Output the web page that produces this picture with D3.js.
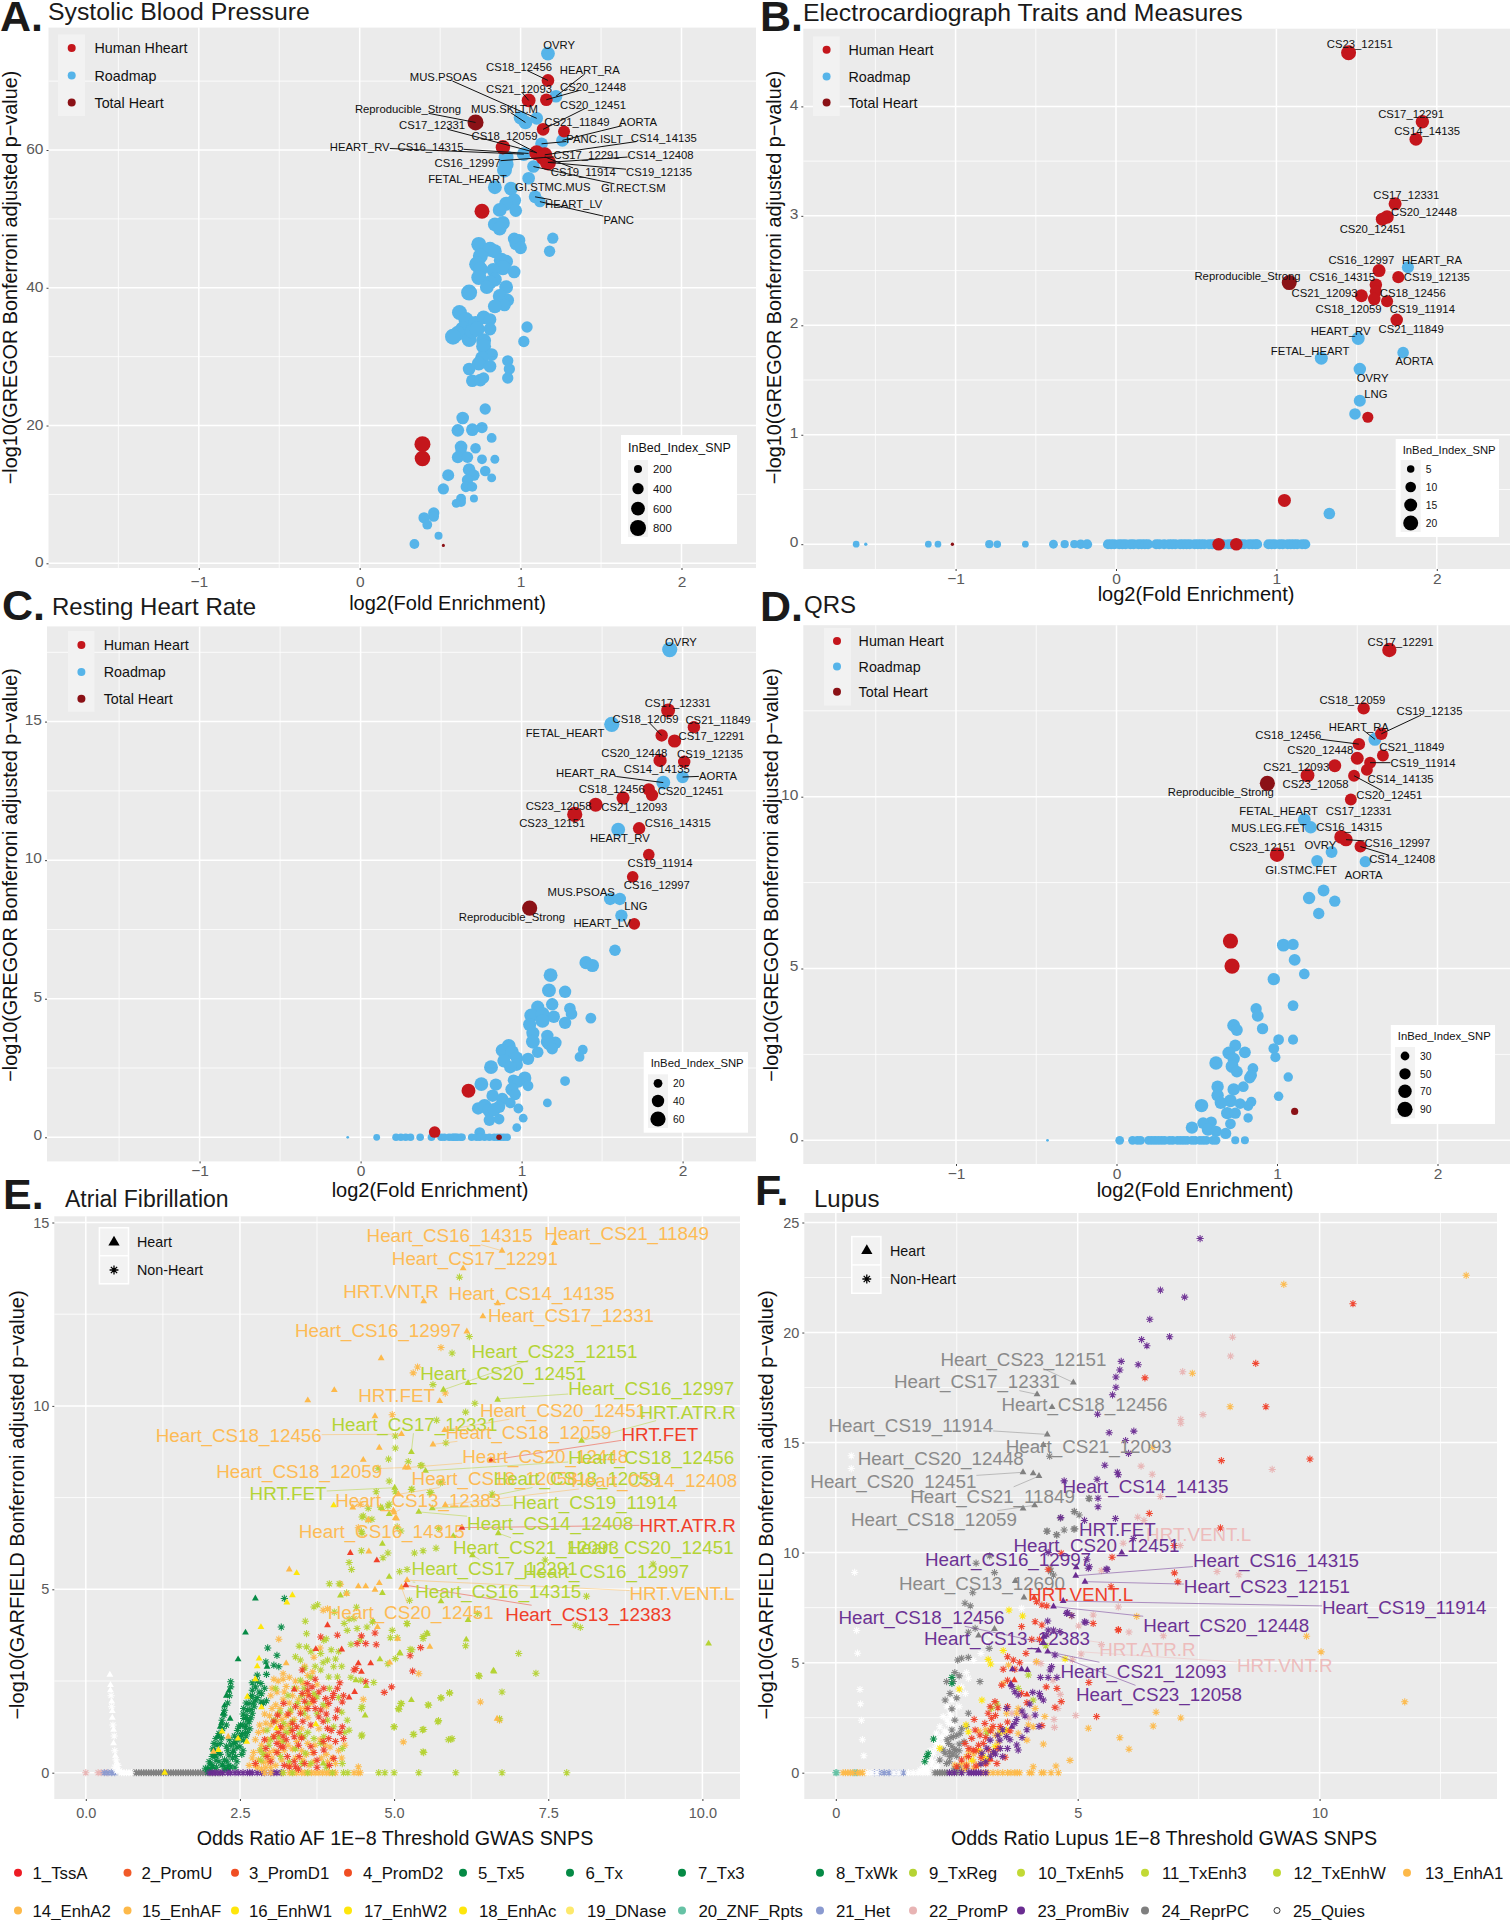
<!DOCTYPE html>
<html><head><meta charset="utf-8">
<script src="https://cdn.jsdelivr.net/npm/d3@7"></script>
<style>html,body{margin:0;background:#fff}svg{display:block}text{font-family:"Liberation Sans",Arial,sans-serif}</style>
</head><body><svg id="c" width="1510" height="1920"></svg>
<script>
// ---------- Panel A: Systolic Blood Pressure ---------- [log2FE, -log10p, InBed_Index_SNP]
const A_roadmap=[[1.17,74,600],[1.22,67.8,500],[1,64.7,600],[1.03,64,600],[1.1,64.6,500],[1.13,60.9,500],[1.26,61.4,500],[1.02,59.4,600],[.91,58.9,700],[.91,57.9,700],[.9,57.1,700],[1.08,57.6,500],[1.05,55.9,500],[.84,54.6,600],[.94,54.4,600],[1.09,53.2,500],[1.12,52.5,400],[.96,52.7,600],[.91,52.2,600],[.87,51.3,600],[.97,51.2,500],[.84,49.2,600],[.89,49.4,600],[.87,48.6,600],[1.2,47.2,400],[.96,47.1,500],[.99,46.9,500],[.97,46.4,500],[1,45.8,500],[1.18,45.3,400],[.74,46.3,700],[.81,45.6,700],[.84,45.3,600],[.75,44.6,700],[.88,44,700],[.91,43.8,600],[.73,43.4,800],[.89,42.9,700],[.83,42.6,600],[.96,42.3,500],[.75,42.7,700],[.74,41.5,700],[.84,41.2,600],[.81,40.8,600],[.79,40.1,600],[.91,40.1,600],[.68,39.3,800],[.87,38.8,600],[.92,38.2,500],[.89,37.9,500],[.9,37.5,500],[.84,37.3,600],[.62,36.4,700],[.66,35.4,700],[.72,34.8,700],[.77,35.7,600],[.81,35.4,500],[.81,34,500],[.64,34,700],[.61,33.4,700],[.58,32.9,800],[.68,32.5,700],[.7,33.7,700],[.73,34,700],[.77,32.3,700],[.77,31.5,700],[1.04,34.3,400],[1.02,32.2,400],[.82,30.3,500],[.76,29.8,600],[.74,29,600],[.81,28.6,500],[.68,28.2,500],[.92,29.4,400],[.93,28.2,400],[.92,26.9,400],[.7,26.5,500],[.75,26.6,500],[.77,26.9,400],[.78,22.4,400],[.64,21.1,500],[.76,19.7,400],[.7,19.4,500],[.61,19.3,500],[.82,18.2,300],[.63,16.9,500],[.72,16.7,350],[.63,16.3,400],[.61,15.4,450],[.67,15.4,400],[.76,15.1,300],[.84,15.1,250],[.68,13.6,500],[.78,13.4,350],[.71,12.8,400],[.55,12.8,450],[.67,12.1,400],[.82,12.4,250],[.66,11.1,350],[.7,11.1,300],[.52,10.8,400],[.71,9.4,200],[.63,9.4,300],[.63,8.9,300],[.6,8.7,250],[.46,7.3,400],[.46,6.8,350],[.4,6.6,400],[.42,5.6,300],[.49,4,200],[.34,2.8,300]];
const A_human=[[1.17,70.1,500],[1.05,67.2,600],[1.16,67.3,500],[1.14,63,500],[1.27,62.7,450],[.89,60.4,650],[1.1,59.6,700],[1.15,59.3,700],[1.14,58.9,700],[1.17,58.2,800],[.76,51.1,700],[.39,17.3,800],[.39,15.2,750]];
const A_total=[[.72,64,800],[.52,2.6,30]];
const A_labels=[["OVRY",1.24,75.3],["CS18_12456",.99,72.1,1.17,70.1],["HEART_RA",1.43,71.6,1.22,67.8],["MUS.PSOAS",.52,70.6,1.1,64.6],["CS20_12448",1.45,69.2,1.16,67.3],["CS21_12093",.99,68.9,1.05,67.2],["CS20_12451",1.45,66.6,1.14,63],["Reproducible_Strong",.3,65.9,.72,64],["MUS.SKLT.M",.9,66,1.03,64],["CS21_11849",1.35,64.1],["AORTA",1.73,64.1,1.26,61.4],["CS17_12331",.45,63.6,1.1,59.6],["CS18_12059",.9,62,1.1,59.6],["PANC.ISLT",1.46,61.6,1.13,60.9],["CS14_14135",1.89,61.8,1.15,59.3],["HEART_RV",0,60.4,1.02,59.4],["CS16_14315",.44,60.4,1.05,59.5],["CS17_12291",1.41,59.3,1.14,58.9],["CS14_12408",1.87,59.3,1.17,58.2],["CS16_12997",.67,58.1,1.14,58.9],["CS19_11914",1.39,56.8,1.15,59],["CS19_12135",1.86,56.8,1.17,58.2],["FETAL_HEART",.67,55.8],["GI.STMC.MUS",1.2,54.7],["GI.RECT.SM",1.7,54.5,1.08,57.6],["HEART_LV",1.33,52.2,1.09,53.2],["PANC",1.61,49.9,1.12,52.5]];
const A_sizes=[200,400,600,800];
// ---------- Panel B: ECG ----------
const B_human=[[1.45,4.49,20],[1.91,3.86,16],[1.87,3.7,15],[1.74,3.11,15],[1.69,2.99,16],[1.66,2.97,15],[1.64,2.5,15],[1.76,2.44,13],[1.62,2.37,14],[1.62,2.31,13],[1.53,2.27,15],[1.61,2.24,14],[1.69,2.22,13],[1.75,2.05,14],[1.57,1.16,11],[1.05,.4,15],[.64,0,14],[.75,0,14]];
const B_total=[[1.08,2.39,20],[-1.02,0,1]];
const B_roadmap=[[1.82,2.53,13],[1.51,1.88,15],[1.28,1.7,15],[1.79,1.75,12],[1.52,1.6,14],[1.52,1.31,13],[1.49,1.19,12],[1.33,.28,12],[-1.62,0,4],[-1.56,0,1],[-1.17,0,4],[-1.11,0,4],[-.79,0,6],[-.74,0,5],[-.565,0,4],[-.39,0,7],[-.32,0,6],[-.26,0,6],[-.22,0,8],[-.18,0,9]].concat([-.05,-.03,-.01,.02,.04,.06,.09,.11,.14,.16,.18,.2,.25,.27,.3,.33,.35,.37,.4,.42,.44,.46,.49,.51,.53,.55,.58,.6,.62,.67,.7,.72,.74,.76,.78,.8,.83,.85,.87,.88,.95,.97,.99,1.02,1.04,1.07,1.09,1.11,1.13,1.16,1.18].map(x=>[x,0,9]));
const B_labels=[["CS23_12151",1.52,4.57],["CS17_12291",1.84,3.93],["CS14_14135",1.94,3.78],["CS17_12331",1.81,3.19],["CS20_12448",1.92,3.04],["CS20_12451",1.6,2.88],["CS16_12997",1.53,2.6],["HEART_RA",1.97,2.6],["Reproducible_Strong",.82,2.45],["CS16_14315",1.41,2.44],["CS19_12135",2,2.44],["CS21_12093",1.3,2.3],["CS18_12456",1.85,2.3],["CS18_12059",1.45,2.15],["CS19_11914",1.91,2.15],["HEART_RV",1.4,1.95],["CS21_11849",1.84,1.97],["FETAL_HEART",1.21,1.77],["AORTA",1.86,1.67],["OVRY",1.6,1.52],["LNG",1.62,1.37]];
const B_sizes=[5,10,15,20];
// ---------- Panel C: Resting Heart Rate ----------
const C_roadmap=[[1.92,17.6,60],[1.56,14.9,60],[1.88,12.8,50],[2,13,40],[1.6,11.1,50],[1.55,8.6,40],[1.61,8.6,40],[1.62,8,40],[1.58,6.75,35],[1.4,6.3,45],[1.44,6.2,45],[1.18,5.85,50],[1.17,5.3,50],[1.27,5.25,40],[1.19,4.8,40],[1.1,4.7,45],[1.3,4.65,35],[1.31,4.45,35],[1.06,4.4,50],[1.13,4.45,50],[1.2,4.35,40],[1.43,4.3,30],[1.13,4.2,50],[1.05,4.07,45],[1.27,4.13,40],[1.07,3.76,45],[1.07,3.45,50],[1.16,3.66,40],[1.16,3.45,45],[1.21,3.41,40],[1.17,3.36,40],[1.19,3.2,35],[1.1,3.07,35],[.92,3.3,50],[.88,3.14,45],[.94,3.07,50],[1.38,3.16,25],[1.36,2.9,25],[1.04,2.83,40],[.97,2.87,40],[.89,2.76,45],[.97,2.62,40],[.93,2.53,40],[.81,2.53,50],[.95,2.06,35],[1.02,2.14,45],[.98,2,35],[1.04,1.86,30],[1.27,2.03,25],[.75,1.92,50],[.84,1.9,40],[.94,1.73,45],[.96,1.55,35],[.82,1.5,40],[.88,1.38,40],[.86,1.1,40],[.93,1.24,30],[1.16,1.24,20],[.73,1.04,40],[.77,1.13,50],[.8,.97,50],[.83,1,45],[.98,1.04,25],[1.01,.69,20],[.8,.62,35],[.86,.66,30],[.97,.35,20],[.74,.17,30],[-.08,0,2],[.1,0,12]].concat([.22,.25,.28,.31,.37,.44,.5,.52,.55,.57,.58,.59,.6,.62,.63,.69,.72,.74,.77,.8,.83,.85,.87,.89,.91].map(x=>[x,0,15]));
const C_human=[[1.91,15.4,50],[2.07,14.8,40],[1.87,14.5,40],[1.95,14.3,45],[1.86,13.6,45],[2.01,13.55,40],[1.79,12.55,40],[1.81,12.35,40],[1.63,12.25,45],[1.46,12,50],[1.33,11.65,60],[1.73,11.15,40],[1.79,10.2,35],[1.69,9.4,35],[1.7,7.7,35],[.67,1.68,50],[.46,.19,35]];
const C_total=[[1.05,8.27,60],[.86,0,8]];
const C_labels=[["OVRY",1.99,17.86],["CS17_12331",1.97,15.68],["CS18_12059",1.77,15.1,1.87,14.5],["CS21_11849",2.22,15.07],["FETAL_HEART",1.27,14.6],["CS17_12291",2.18,14.49],["CS20_12448",1.7,13.88],["CS19_12135",2.17,13.85],["HEART_RA",1.4,13.16,1.88,12.8],["CS14_14135",1.84,13.29],["AORTA",2.22,13.05,2,13],["CS18_12456",1.56,12.57],["CS20_12451",2.05,12.49],["CS23_12058",1.23,11.97],["CS21_12093",1.7,11.92],["CS23_12151",1.19,11.35],["CS16_14315",1.97,11.35],["HEART_RV",1.61,10.8],["CS19_11914",1.86,9.89],["CS16_12997",1.84,9.1],["MUS.PSOAS",1.37,8.87],["LNG",1.71,8.34],["Reproducible_Strong",.94,7.96],["HEART_LV",1.5,7.72]];
const C_sizes=[20,40,60];
// ---------- Panel D: QRS ----------
const D_human=[[1.7,14.27,80],[1.54,12.57,60],[1.65,11.83,60],[1.51,11.53,60],[1.5,11.12,65],[1.66,11.2,55],[1.58,10.99,55],[1.56,10.78,55],[1.36,10.9,65],[1.48,10.61,55],[1.19,10.62,75],[1.46,9.92,55],[1.4,8.83,75],[1.43,8.75,70],[1.52,8.55,55],[1,8.31,80],[.71,5.8,90],[.72,5.07,90]];
const D_total=[[.94,10.39,90],[1.11,.84,20]];
const D_roadmap=[[1.61,11.67,65],[1.17,9.33,65],[1.21,9.11,60],[1.34,8.39,55],[1.25,8.13,55],[1.55,8.11,50],[1.29,7.27,55],[1.2,7.05,60],[1.36,6.96,50],[1.26,6.6,50],[1.04,5.68,65],[1.1,5.7,50],[1.11,5.25,55],[1.17,4.84,45],[.98,4.69,60],[1.1,3.92,45],[.87,3.83,50],[.88,3.62,55],[.91,3.25,50],[.73,3.34,65],[.75,3.21,55],[1.01,2.93,45],[1.1,2.93,40],[.74,2.76,55],[.98,2.67,45],[.8,2.56,55],[.7,2.54,65],[.73,2.37,60],[.99,2.42,40],[.62,2.25,70],[.72,2.15,65],[.75,2,55],[.85,2.09,45],[.84,1.89,50],[.83,1.82,50],[1.07,1.84,35],[.79,1.56,45],[.63,1.56,60],[.73,1.48,60],[.63,1.31,60],[.71,1.15,65],[.65,1.09,60],[1.01,1.28,35],[.84,1.12,40],[.77,1.07,45],[.82,1,40],[.53,1.01,70],[.69,.79,60],[.74,.79,50],[.82,.65,35],[.59,.53,50],[.54,.5,55],[.47,.37,60],[.71,.48,45],[.57,.31,60],[.62,.26,50],[.68,.2,50],[-.43,0,3],[.02,0,30],[.74,0,25],[.8,0,25]].concat([.1,.13,.15,.2,.22,.24,.26,.28,.3,.33,.35,.38,.4,.42,.44,.47,.49,.52,.54,.56,.6,.62].map(x=>[x,0,30]));
const D_labels=[["CS17_12291",1.77,14.51],["CS18_12059",1.47,12.81],["CS19_12135",1.95,12.49,1.65,11.83],["HEART_RA",1.51,12.04,1.61,11.67],["CS18_12456",1.07,11.79,1.51,11.53],["CS21_11849",1.84,11.46],["CS20_12448",1.27,11.35],["CS19_11914",1.91,10.99,1.58,10.99],["CS21_12093",1.12,10.86],["CS14_14135",1.77,10.52],["CS23_12058",1.24,10.37],["CS20_12451",1.7,10.06,1.48,10.61],["Reproducible_Strong",.65,10.14],["FETAL_HEART",1.01,9.58],["CS17_12331",1.51,9.59],["MUS.LEG.FET",.95,9.09],["CS16_14315",1.45,9.12],["OVRY",1.27,8.61],["CS16_12997",1.75,8.65,1.43,8.75],["CS23_12151",.91,8.53],["CS14_12408",1.78,8.18,1.52,8.55],["GI.STMC.FET",1.15,7.88],["AORTA",1.54,7.73]];
const D_sizes=[30,50,70,90];
// ---------- Panel E: Atrial Fibrillation ---------- [odds ratio, -log10p]
const E_green_star=[[3.22,4.75],[3.17,3.97],[2.95,3.4],[3.1,3.2],[2.92,3.02],[3.05,2.93],[3.13,2.89],[2.93,2.68],[2.78,2.66],[2.35,2.48],[2.35,2.34],[2.84,2.43],[2.75,2.34],[2.81,2.2],[2.7,2.25],[2.93,1.96],[2.67,2.07],[2.75,1.98],[2.84,1.93],[2.65,1.89],[2.73,1.8],[2.62,1.71],[2.7,1.62],[2.56,1.48],[2.65,1.39],[2.51,1.3],[2.59,1.21],[2.54,1.07],[2.48,.98],[2.56,.89],[2.43,.84],[2.5,.71],[2.35,.75],[2.4,.62],[2.32,.48],[2.43,.44],[2.29,.3],[2.21,.21],[2.35,.16],[2.27,.12],[2.21,1.43],[2.24,1.57],[2.16,1.07],[2.11,.93],[2.08,.8],[2.13,.75],[2.05,.44],[2,.3],[1.94,.12],[2,.12],[2.11,.34],[2.6,1.55],[2.68,1.72],[2.46,1.15],[2.52,1.02],[2.38,.55],[2.45,.3],[2.56,1.75],[2.6,1.3],[2.28,.72],[2.18,.5],[2.41,1],[2.33,.9],[2.55,1.6],[2.62,1.45],[2.68,1.5],[2.72,1.9],[2.78,2.05],[2.7,2.1],[2.6,1.9],[2.55,1.3],[2.48,1.25],[2.45,.7],[2.5,.9],[2.4,.8],[2.38,.4],[2.3,.6],[2.25,.35],[2.42,.15],[2.32,.2],[2.25,.1],[2.62,1.1],[2.55,.6],[2.88,1.9],[2.85,2.15],[2.9,2.3],[2.7,2.45],[2.78,2.5],[2.66,1.2],[2.6,1],[2.53,.5],[2.05,.2],[2.02,.05],[2.08,.5],[2.14,.55],[2.2,.95],[2.18,.8],[2.22,1.2],[2.12,.15],[2.16,.3],[1.98,.02],[2.06,.65],[2.25,1.7],[2.28,1.3],[2.3,1.9],[2.33,2.1]];
const E_green_tri=[[2.75,4.75],[2.59,3.82],[2.47,3.09],[2.94,2.89],[2.25,1.83],[2.32,2.23],[2.34,1.47],[2.23,1.62],[2.18,1.25],[2.08,.62],[2.02,.25],[2.1,.45],[2.14,1],[2.2,1.35],[2.28,2.1],[1.98,.1],[2.06,.15],[2.22,.2],[2.3,.1]];
const E_red_star=[[3.59,2.43],[3.67,2.34],[3.51,2.16],[3.86,2.3],[4.08,2.3],[3.89,2.02],[4.02,2.16],[4.16,1.93],[3.94,1.89],[3.81,1.71],[4.08,1.71],[3.92,1.21],[4.16,1.25],[4.18,.93],[3.94,.93],[3.78,1.52],[3.65,1.3],[3.48,1.62],[3.4,1.8],[3.21,1.89],[3.11,1.57],[3.16,1.25],[3.05,.98],[2.92,.66],[2.94,.44],[2.75,.25],[3.27,.44],[3.4,.16],[3.46,.44],[3.3,.16],[3.16,.71],[3.38,.98],[3.65,.71],[3.75,.34],[4.02,.39],[3.86,.62],[3.51,2.8],[3.81,3.7],[4.08,3.75],[4.47,3.73],[4.4,3.52],[4.54,3.52],[4.71,3.49],[4.69,3.81],[4.38,2.84],[4.35,2.8],[4.54,2.48],[4.84,2.19],[4.96,2.34],[5.3,2.77],[5.26,3.19],[5.43,3.41],[3.62,2.1],[3.7,1.95],[3.2,1],[3.05,1.4],[2.9,.9],[3.1,.55],[3.35,1.35],[3.45,.75],[3.55,.25],[3.95,.2],[3,.3],[3.2,.7],[3.25,.9],[3.12,1.1],[3.28,1.6],[3.35,1.15],[3.42,1.25],[3.5,.95],[3.55,1.95],[3.6,2.25],[3.68,2],[3.72,1.75],[3.85,1.4],[3.9,1.6],[3.98,1.15],[4.05,1.5],[4.12,1.1],[4,2.05],[4.12,2.45],[4.18,2.1],[3.78,2.2],[3.72,2.55],[3.6,1.75],[3.38,.3],[3.22,.2],[3.45,.1],[3.75,.15],[3.1,.8],[3.7,.55],[3.85,.85],[4.05,.85],[3.52,1.4]];
const E_red_tri=[[3.92,4.02],[3.73,3.37],[4.15,3.36],[4.62,2.98],[4.42,2.98],[4.47,2.75],[4.36,2.2],[4.27,2.05],[3.38,2.27],[4.72,5.79],[4.29,5.99],[5.19,5.11],[6.1,6.68],[6.57,8.52]];
const E_yg_star=[[7.02,3.25],[7.3,2.71],[6.37,2.65],[6.75,2.2],[5.9,2.17],[5.76,2.04],[5.55,1.85],[5.12,1.88],[5.07,1.75],[4.47,1.75],[5,1.25],[6.71,1.47],[5.71,1.39],[5.31,1.04],[5.46,1.17],[5.88,.9],[5.94,.93],[5.47,.57],[4.47,1],[9.2,5.69],[8.12,4.81],[7.94,4.02],[8.02,3.96],[7.45,5.8],[6.35,4.34],[6.16,3.46],[5.53,3.8],[5.47,3.71],[5.05,3.68],[4.9,2.97],[5.29,3.35],[6.06,13.51],[6.22,11.89],[5.94,11.44],[5.63,10.58],[6.31,10.07],[6.16,9.83],[5.69,9.61],[5.02,9.18],[5.02,8.85],[4.91,8.55],[5.23,8.48],[5.45,8.38],[5.84,8.99],[4.92,7.95],[5.29,7.73],[5.58,7.64],[4.71,7.66],[5.75,7.9],[4.48,6.97],[4.64,6.91],[4.92,7.32],[4.58,7.21],[4.48,6.53],[5.11,6.59],[5.72,6.66],[5.02,7.66],[4.74,8.3],[5.43,8.37],[5.28,7.72],[5.6,7.63],[5.78,7.92],[6.59,7.6],[5.05,6.7],[4.5,7],[4.9,7.27],[4.78,7.24],[4.47,6.57],[4.58,6.89],[5.68,6.12],[5.47,6.05],[5.33,5.99],[5.09,5.48],[4.82,5.86],[4.9,5.99],[4.47,6.05],[4.27,5.73],[4.31,5.54],[3.95,5.15],[4.11,5.15],[4.23,4.9],[5.21,5.54],[5.25,4.7],[4.39,4.51],[4.03,4.38],[3.56,4.13],[3.76,4.58],[4.27,4.19],[5.21,4.06],[3.7,4.52],[3.58,3.79],[3.46,3.45],[3.58,3.43],[3.4,3.16],[3.48,3.07],[3.86,3.61],[4.19,4.07],[4.35,4.2],[4.4,3.93],[4.24,3.88],[4.56,3.97],[4.65,4.11],[4.94,3.68],[4.97,3.88],[5.21,4.07],[5.26,3.36],[5.47,3.66],[5.02,3.11],[3.81,3.25],[3.92,3.07],[4.02,2.89],[4.08,2.61],[3.81,2.8],[3.94,2.61],[4.46,2.52],[4.67,2.46],[3.48,2.52],[3.7,2.16],[3.54,2.3],[3.75,2.07],[3.59,1.89],[3.43,1.89],[3.32,1.71],[3.54,1.62],[3.75,1.62],[3.92,1.43],[4.02,1.25],[4.24,1.43],[4.27,1.16],[4.48,1.8],[4.48,1.03],[4.16,.66],[4.16,.25],[3.86,.98],[3.81,.8],[3.54,.98],[3.46,1.07],[3.32,1.21],[3.21,1.34],[3.05,1.43],[2.94,1.16],[3.13,.98],[2.97,.75],[2.84,.62],[2.84,.34],[3.16,.44],[3.56,.53],[3.7,.93],[5.11,1.89],[5.08,1.73],[5,1.25],[5.32,1.05],[5.48,1.18],[5.72,1.42],[5.56,1.84],[5.76,2.04],[5.9,2.18],[6.38,2.63],[5.48,.55],[5.92,.91],[3.25,1.1],[3.35,1.4],[3.28,2.1],[3.38,2.3],[3.5,2.1],[3.65,2.6],[3.72,2.9],[3.85,3],[3.95,2.3],[3.98,3.35],[4.05,3.1],[4.1,2.05],[4.15,1.65],[4.2,1.1],[3.15,1.65],[3.08,2.3],[3.2,.85],[3.4,.65],[3.6,1.1],[3.65,.25],[3.9,.15],[3.85,1.85],[3.55,2.85],[3.65,3.3],[3.9,3.65],[4.1,3.3],[4.3,3.5],[4.45,3.6],[4.3,2.6],[4.15,2.9],[3,.9],[2.88,.5],[3.3,.3],[3.5,.25]];
const E_yg_tri=[[10.1,3.52],[6.61,2.78],[5.28,1.98],[4.53,1.56],[6.62,2.76],[6.17,3.63],[5.54,3.79],[5.1,3.25],[4.77,3.09],[4.38,2.52],[4.55,2.36],[4.81,4.9],[4.13,4.83],[4.92,5.34],[4.81,6.24],[3.85,.25],[6.2,4.16],[6.2,10.62],[6.68,10.17],[5.8,10.44],[5.28,8.74],[5.51,8.23],[5.01,7.77],[5.62,7.21],[5.4,7.11],[4.92,7.05],[4.8,7.21],[6.59,7.55],[8.04,9.05],[5.96,6.45],[6.69,6.53],[6.27,5.93],[5.76,4.67],[4.66,4.13],[5.09,3.26]];
const E_or_star=[[2.75,.2],[2.8,.35],[2.85,.1],[2.9,.5],[2.72,.55],[2.95,.3],[3,.15],[3.05,.6],[2.85,.75],[2.95,.9],[3.05,1],[3.15,.85],[3.2,1.2],[3.1,1.4],[3,1.3],[3.25,1.55],[3.3,1.9],[3.2,2],[3.15,1.75],[3.1,2.2],[3.25,2.35],[3.35,2.1],[3.4,2.5],[3,2.1],[3.45,2],[3.55,1.75],[3.6,1.5],[3.5,1.2],[3.7,2.1],[3.75,2.4],[3.65,1.9],[3.8,.9],[3.9,.5],[3.7,.3],[3.5,.6],[3.4,.4],[3.3,.2],[3.6,.8],[3.9,1.8],[4,.4],[4.1,.6],[3.13,3.64],[4.13,5.14],[3.92,4.47],[3.85,4.43],[4.5,2],[5.15,.84],[6.4,1.93],[5.4,2.7],[4.42,.16],[6.71,1.43],[5.76,11.59],[5.38,11.06],[5.31,10.9],[5.83,10.35],[4.97,9.76],[4.45,7.32],[4.42,6.68],[3.05,2.55],[3.2,2.7],[3.6,2.65],[3.3,1.1],[2.9,1.6],[2.8,1.1],[2.65,.2],[2.7,.4],[2.78,.15],[2.82,.6],[2.88,.28],[2.92,.15],[2.98,.55],[3.02,.4],[3.08,.2],[3.12,.55],[3.18,.35],[3.22,.6],[3.28,.75],[3.35,.65],[3.42,.85],[3.48,1],[3.52,.35],[3.58,.5],[3.62,.2],[3.68,.55],[3.72,.75],[3.78,1.2],[3.82,.4],[3.88,.75],[3.92,.3],[3.96,.7],[4.05,.25],[4.15,.4],[2.75,.9],[2.82,1.3],[2.88,1.15],[2.92,1.35],[2.98,1.55],[3.02,1.75],[3.08,1.85],[3.12,1.6],[3.18,1.45],[3.22,2.2],[3.28,1.3],[3.32,1.65],[3.38,1.45],[3.42,2.3],[3.48,1.75],[3.52,2.45],[3.58,2.15],[3.12,2.5],[3.2,2.55],[3.3,2.6],[3.02,2.3],[3.55,2.9],[3.7,3.15],[3.8,3.4],[3.68,2.75],[4.2,.75]];
const E_or_tri=[[3.3,5.54],[4.42,5.08],[4.54,5.08],[4.76,5.17],[4.23,4.88],[4.69,4.99],[4.59,6.03],[4.73,3.97],[5.06,3.65],[5.58,3.43],[4.93,3],[3.25,2.98],[6.67,1.47],[2.31,.98],[2.07,.57],[4.99,7.15],[5.02,6.94],[5.12,5.05],[5.21,5.25],[6.75,14.23],[7.6,14.44],[6.12,13.75],[5.48,12.85],[6.68,12.8],[6.44,12.44],[6.18,12.03],[4.79,11.3],[4.03,10.43],[3.6,10.15],[5.74,10.13],[4.69,9.72],[5.12,9.23],[4.76,8.86],[4.5,8.53],[5.63,8.95],[5.82,9.34],[5.18,8.32],[5.23,8.32],[5.07,7.59],[5.83,7.3],[5,7.09],[5.04,6.93],[4.58,6.89],[4.33,7.23]];
const E_ye_tri=[[3.42,5.44],[3.35,4.84],[3.26,4.64],[2.84,3.97],[2.81,3.11],[2.78,2.9],[2.75,2.55],[2.62,2.07],[2.21,1.12],[2.47,.93],[2.61,.84],[2.15,.62],[3.09,1.21],[2.85,1.78],[3.73,1.32],[4.02,7.29],[1.28,0]];
const E_white=[[.39,2.67],[.4,2.39],[.4,2.25],[.42,1.94],[.43,1.68],[.43,1.5],[.45,1.17],[.45,.8],[.48,.46],[.5,.27],[.53,.08],[.41,2.1],[.42,1.8],[.44,1.3],[.46,1],[.47,.6],[.49,.35],[.52,.2],[.55,.05],[.58,0],[.62,0],[.66,0],[.7,0],[.74,0],[.47,.15],[.5,.05]];
const E_zero_pink=[0,.2,.25,.34];
const E_zero_het=[.3,.36,.42,.47];
const E_zero_gray=[.78,.82,.86,.9,.94,.98,1.02,1.06,1.1,1.14,1.18,1.22,1.26,1.3,1.34,1.38,1.42,1.46,1.5,1.54,1.58,1.62,1.66,1.7,1.74,1.78,1.82,1.86,1.9,1.94,1.98,2.02,2.06,2.1,2.14,2.18,2.22];
const E_zero_purple=[2,2.05,2.1,2.16,2.22,2.3,2.35,2.42,2.48,2.55,2.62,2.66,2.7,2.78,2.85,2.9,3,3.05,3.1,3.17];
const E_zero_or=[2.9,3,3.2,3.3,3.36,3.42,3.5,3.55,3.6,3.66,3.72,3.78,3.84,3.9,3.95,4,4.05,4.35,4.42,4.45];
const E_zero_yg=[3.2,3.35,3.6,4,4.18,4.25,4.75,4.85,5,5.4,6,6.75,7.8];
const E_labels=[["Heart_CS16_14315",5.9,14.64,"or",6.75,14.23],["Heart_CS21_11849",8.77,14.7,"or"],["Heart_CS17_12291",6.31,14.02,"or"],["HRT.VNT.R",4.95,13.12,"or"],["Heart_CS14_14135",7.23,13.07,"or"],["Heart_CS17_12331",7.87,12.47,"or"],["Heart_CS16_12997",4.74,12.06,"or"],["Heart_CS23_12151",7.6,11.49,"yg",5.8,10.44],["Heart_CS20_12451",6.77,10.9,"yg"],["Heart_CS16_12997",9.17,10.48,"yg",6.67,10.19],["HRT.FET",5.04,10.28,"or"],["Heart_CS20_12451",7.74,9.88,"or",5.82,9.34],["HRT.ATR.R",9.76,9.83,"yg",8.04,9.05],["Heart_CS17_12331",5.33,9.5,"yg",5.28,8.74],["Heart_CS18_12059",7.18,9.28,"or",5.63,8.95],["HRT.FET",9.31,9.22,"red",6.57,8.52],["Heart_CS18_12456",2.48,9.2,"or",5.12,9.23],["Heart_CS20_12448",7.45,8.62,"or",5.23,8.32],["Heart_CS18_12456",9.17,8.61,"yg",5.51,8.23],["Heart_CS18_12059",3.46,8.21,"or",5.18,8.32],["Heart_CS18_12058",6.63,8.02,"or",5.07,7.59],["Heart_CS18_12059",7.96,8.02,"yg",6.59,7.55],["Heart_CS14_12408",9.22,7.98,"or",5.83,7.3],["HRT.FET",3.28,7.63,"yg",5.01,7.77],["Heart_CS13_12383",5.39,7.42,"or",5,7.09],["Heart_CS19_11914",8.26,7.38,"yg",5.62,7.21],["Heart_CS14_12408",7.53,6.79,"yg",5.4,7.11],["HRT.ATR.R",9.76,6.76,"red",6.1,6.68],["Heart_CS16_14315",4.8,6.59,"or"],["Heart_CS21_12093",7.3,6.16,"yg",6.69,6.53],["Heart_CS20_12451",9.16,6.16,"yg"],["Heart_CS17_12291",6.63,5.57,"yg",6.27,5.93],["Heart_CS16_12997",8.44,5.49,"yg"],["Heart_CS16_14315",6.69,4.96,"yg",5.3,5.2],["HRT.VENT.L",9.67,4.9,"or",5.21,5.25],["Heart_CS20_12451",5.27,4.37,"or",5.12,5.05],["Heart_CS13_12383",8.15,4.32,"red",5.19,5.11]];
// ---------- Panel F: Lupus ----------
const F_purple_star=[[7.53,24.27],[6.71,21.93],[7.21,21.61],[6.49,20.6],[6.32,19.68],[6.9,19.81],[6.43,19.4],[5.9,18.69],[6.25,18.54],[5.87,18.3],[5.79,17.98],[5.79,17.51],[5.72,17.17],[5.41,16.29],[5.65,15.45],[6.16,15.52],[5.99,15.09],[6.05,14.51],[5.56,13.97],[5.82,13.65],[5.84,13.54],[4.72,13.26],[5.4,13.33],[5.42,12.47],[5.42,12.08],[4.65,11.59],[5.78,11.55],[5.14,11.46],[6.15,10.64],[5.59,9.25],[5.19,9.68],[5.24,9.36],[4.39,10],[5.14,6.85],[4.79,7.27],[4.38,6.89],[5.22,9.29],[5.61,9.24],[4.77,7.24],[5.17,6.83],[4.88,7.14],[4.39,6.48],[4.5,6.48],[4.63,6.41],[4.36,6.26],[4.53,5.35],[4.46,4.82],[4.43,4.67],[4.23,4.33],[4.39,4.33],[4.57,4.33],[4.21,3.6],[4.07,3.65],[4.29,3.3],[4.23,3.45],[3.7,3.68],[3.77,3.53],[3.64,3.91],[4.01,3.12],[3.53,2.92],[4.12,2.62],[3.74,2.42],[3.91,2.58],[3.7,2.24],[3.53,1.64],[3.74,1.26],[3.77,1.03],[3.45,.73],[3.26,.95],[3.12,1.11],[3.02,.88],[3.19,1.48],[3.39,1.48],[3.4,1.1],[3.1,.5],[3.2,.75],[3.3,.85],[3.35,1.7],[3.45,1.95],[3.55,1.1],[3.6,1.5],[3,.4],[3.85,2.8],[4.2,2.1],[3.95,1.95],[3.85,1.6]];
const F_purple_tri=[[4.97,9.33],[4.96,8.95],[5.15,8.68],[4.7,7.8],[4.5,7.55],[4.29,5.91],[4.19,5.55],[4.38,5.5],[3.65,4.7],[3.84,4.7],[3.96,4.67],[3.62,4.03],[3.64,2.09],[5.91,10],[4.3,6.18]];
const F_gray_star=[[5.23,12.47],[4.93,11.86],[5.03,11.71],[4.94,11.08],[4.37,10.98],[4.72,11.03],[4.57,10.8],[2.9,9.52],[3.18,9.85],[3.28,9.09],[4.43,9.29],[4.5,8.98],[2.67,7.7],[2.78,7.58],[2.83,8.18],[2.88,6.56],[2.74,6.38],[3.17,5.65],[2.74,5.24],[2.52,5.12],[2.98,4.14],[2.46,4.55],[2.43,4.14],[2.29,4.14],[2.26,3.3],[2.36,3.6],[2.74,2.7],[2.46,2.39],[2.57,1.79],[2.43,1.64],[2.33,1.33],[2.22,1.03],[2.15,.58],[2.36,.73],[2.29,.42],[2.5,.12],[2.26,.88],[2.4,1.94],[4.42,14.38],[4.93,11.87],[5.24,12.45],[4.64,11.57],[4.36,10.97],[4.56,10.82],[4.92,11.07],[4.44,9.14],[2.4,1.2],[2.45,1.05],[2.35,.95],[2.5,.75],[2.5,1.7],[2.55,1.3],[2.48,1],[2.42,.85],[2.55,1],[2.6,2],[2.35,.5],[2.45,.2],[2.55,.3],[2.65,1.4],[2.7,2.1],[2.4,2.9],[2.5,3.4],[2.55,4.4],[2.6,5.2],[2.3,1.5],[2.38,1.6],[2.7,.2],[2.6,.1]];
const F_gray_tri=[[4.91,17.73],[4.16,17.19],[4.47,16.61],[4.37,15.37],[4.29,14.89],[3.87,13.65],[4.08,13.6],[4.2,13.48],[3.87,12],[4.11,12.15],[3.71,8.71],[3.89,7.96],[3.28,6.53],[2.95,6.23]];
const F_white=[[.32,14.4],[.32,13.82],[.39,9.1],[.43,6.46],[.45,5.43],[.5,3.78],[.51,3.13],[.53,2.38],[.55,1.5],[.58,.77],[3,5.42],[3.84,7.47],[2.7,4.55],[2.74,4.29],[2.53,3.53],[2.43,2.92],[2.22,2.55],[2.33,2.24],[2.15,2.09],[2.19,1.64],[2.08,1.33],[2.02,.88],[1.91,.58],[1.81,.27],[1.98,.35],[2.22,1.33],[2.36,2.7],[2.29,1.8],[2.08,1.8],[2.15,1.14],[1.94,.7],[1.74,.12],[2.3,3],[2.4,3.3],[2.1,1.5],[1.85,.4],[2.05,.2],[1.95,1],[2.05,1.1],[2.12,1.3],[2.25,1.9],[2.3,2.4],[2.38,2.55],[2.42,2.2],[2.45,1.7],[2.2,1.6],[2,.5],[1.9,.2],[2.12,.6],[2.55,3],[2.6,3.9],[2.68,3.6],[2.85,5.1],[3.1,5.9],[3.2,6.3],[1.78,.05],[1.85,.1],[2.1,.3]];
const F_red_star=[[10.69,21.31],[8.68,18.6],[6.39,17.94],[8.89,16.63],[7.97,14.18],[9.8,14.25],[6.48,11.78],[7.95,11.12],[6.99,10.32],[5.71,9.79],[7,9.08],[7.07,8.67],[5.69,8.45],[5.84,6.5],[5.32,6.78],[5.23,4.1],[5.39,2.55],[4.66,9.97],[4.39,9.24],[4.66,3.23],[4.53,2.97],[4.57,3.83],[4.15,7.77],[4.26,7.62],[4.36,7.58],[4.12,6.86],[4.26,6.71],[3.84,6.64],[4.05,6.06],[4.21,6.06],[3.93,5.42],[3.55,5.27],[3.67,5.12],[3.46,4.7],[3.43,3.98],[3.84,3.6],[3.95,3.18],[3.55,3],[3.29,3.23],[3.19,3],[3.15,2.7],[3.22,2.47],[2.86,2.42],[3.08,2.24],[2.88,1.94],[2.98,1.71],[2.81,1.56],[3.05,1.33],[2.67,1.33],[2.5,.27],[2.6,.58],[2.74,.73],[2.84,1.03],[3.33,.42],[4.26,2.14],[5.84,6.48],[4.35,3.9],[3.1,1.6],[3.2,1.9],[3.25,2.1],[3.3,2.6],[3.35,2.95],[3.4,2.1],[3.5,.7],[2.9,1],[3,.7],[3.1,.4],[2.7,.3],[2.9,.3],[3.55,2.3],[3.6,1.9],[3.15,1.05],[2.95,1.25],[3.35,1.1],[2.75,1.1],[3.7,4.7],[3.55,4.2],[3.8,5]];
const F_red_tri=[[3.69,4.2],[3.95,3.55],[3.2,.6],[4.1,7.95]];
const F_or_star=[[13.03,22.6],[9.26,22.19],[7.37,18.15],[8.15,16.63],[11.76,3.22],[10.03,5.49],[9.73,6.2],[6.55,14.79],[6.22,7.1],[6.62,2.75],[6.56,2.12],[7.13,2.49],[5.22,2.02],[5.87,1.59],[6.06,1.07],[4.84,.56],[4.55,.3],[4.87,7.14],[4.29,1.3],[4.08,.27],[3.98,2.17],[4.08,2.09],[3.77,2.92],[4.32,2.55],[4.12,2.92],[3.22,2.02],[3.39,1.94],[3.77,1.79],[3.95,1.48],[2.7,.73],[2.6,.42],[2.46,.35],[4.15,5.05],[3.57,4.89],[3.46,4.06],[3.74,2.7],[3.53,2.7],[2.85,.5],[2.95,.35],[2.75,.95],[2.85,.85],[3,.95],[3.05,.55],[3.15,.5],[2.7,.4],[3.3,1.7],[3.35,1.35],[3.1,1.95],[2.95,1.9],[3.5,1.85],[3.25,.9],[2.85,.2],[2.65,.15]];
const F_pink=[[8.2,19.79],[8.16,18.93],[7.17,18.22],[7.59,16.27],[7.13,16.05],[7.13,15.88],[9.02,13.78],[6.31,13.93],[6.54,13.56],[6.71,12.55],[6.24,11.61],[6.37,11.46],[5.94,10.43],[7.12,10.32],[7.88,9.14],[8.33,8.99],[5.49,9.18],[5.84,7.53],[5.32,7.17],[5.02,6.67],[6.06,6.39],[6.77,6.22],[5.49,5.82],[5.07,5.39],[4.89,5.13],[4.96,2.6],[4.52,2.06],[4.51,2.42],[4.64,3.56],[4.49,4.2],[4.59,2.92],[4.24,4.96],[4.14,5.02],[3.99,2.49],[3.84,2.7],[3.64,2.7]];
const F_yellow=[[3.58,7.39],[3.86,7.12],[3.46,5.55],[3.15,5.15],[3.2,4.94],[4.74,5.17],[2.55,3.8],[3.02,3.3],[2.69,2.17],[2.74,1.86],[2.15,1.11],[2.95,1.03],[3.15,.65],[3.29,1.18],[3.53,1.94],[3.39,1.79],[2.81,.58],[3.05,.73]];
const F_yg=[[3.98,4.44],[3.77,3.83],[3.33,3.12],[3.22,2.92],[4.34,5.77],[4.08,3.3],[3.12,1.79]];
const F_green=[[2.4,4.33],[2.4,4.06],[2.02,1.53],[1.91,.88],[1.88,.73],[1.84,.5]];
const F_zero_aqua=[0,.02,.38,.42];
const F_zero_or=[.15,.2,.25,.3,.35,.45,.5,.55,.6,3.05,3.15,3.25,3.35,3.45,3.55,3.62,3.7,3.75,3.8,4,4.05,4.25,4.3,4.45,4.6];
const F_zero_white=[.65,.75,.85,1.2,1.3,1.5,1.6,1.7,1.8,1.9];
const F_zero_het=[.8,.9,1,1.1,1.2,1.3,1.4];
const F_zero_gray=[2.05,2.1,2.15,2.2,2.25,2.3,2.4,2.5,2.6];
const F_zero_purple=[2.35,2.45,2.6,2.75,2.8,2.85,2.9,2.95,3,3.1];
const F_labels=[["Heart_CS23_12151",3.88,18.78,"gray",4.91,17.73],["Heart_CS17_12331",2.92,17.77,"gray",4.16,17.19],["Heart_CS18_12456",5.14,16.76,"gray"],["Heart_CS19_11914",1.55,15.77,"gray",4.37,15.37],["Heart_CS21_12093",5.23,14.85,"gray"],["Heart_CS20_12448",2.17,14.27,"gray"],["Heart_CS20_12451",1.19,13.26,"gray",3.87,13.65],["Heart_CS21_11849",3.24,12.58,"gray",4.2,13.48],["Heart_CS18_12059",2.03,11.5,"gray",4.11,12.15],["Heart_CS13_12690",3.02,8.6,"gray"],["HRT.VENT.L",7.5,10.84,"pink"],["HRT.ATR.R",6.44,5.62,"pink",5.2,6],["HRT.VNT.R",9.28,4.89,"pink",5,5.5],["Heart_CS14_14135",6.4,13.03,"pur"],["HRT.FET",5.82,11.07,"pur"],["Heart_CS20_12451",5.39,10.34,"pur",5.91,10],["Heart_CS16_12997",3.56,9.7,"pur",4.97,9.33],["Heart_CS16_14315",9.1,9.66,"pur",4.96,8.95],["Heart_CS23_12151",8.91,8.48,"pur",5.15,8.68],["Heart_CS19_11914",11.75,7.51,"pur",4.7,7.8],["Heart_CS20_12448",8.07,6.7,"pur",4.5,7.55],["Heart_CS18_12456",1.77,7.06,"pur",4.29,5.91],["Heart_CS13_12383",3.54,6.09,"pur",4.19,5.55],["Heart_CS21_12093",6.36,4.61,"pur",4.38,5.5],["Heart_CS23_12058",6.68,3.56,"pur",4.38,5.5],["HRT.VENT.L",5.06,8.11,"red"]];
// ---------- chromatin state legend ----------
const stateNames=["1_TssA","2_PromU","3_PromD1","4_PromD2","5_Tx5","6_Tx","7_Tx3","8_TxWk","9_TxReg","10_TxEnh5","11_TxEnh3","12_TxEnhW","13_EnhA1","14_EnhA2","15_EnhAF","16_EnhW1","17_EnhW2","18_EnhAc","19_DNase","20_ZNF_Rpts","21_Het","22_PromP","23_PromBiv","24_ReprPC","25_Quies"];
const stateColors=["#ed1c24","#f15a29","#f04e23","#f04e23","#058a45","#058a45","#058a45","#058a45","#b5d334","#c2d935","#c2d935","#c2d935","#fdb94a","#fdb94a","#fdb94a","#fee60c","#fee60c","#fee60c","#fde96c","#66c2a5","#8a9ad0","#e8b4b4","#6a2c91","#7f7f7f","#ffffff"];

const pal={human:"#c4161c",road:"#56b4e9",total:"#8b1116",red:"#f0402a",or:"#fdb94a",yg:"#b5d334",green:"#058a45",ye:"#fee60c",pur:"#6a2c91",gray:"#808080",pink:"#e8b4b4",white:"#ffffff",aqua:"#66c2a5",het:"#8a9ad0"};
const labelCol={or:"#fdbb55",yg:"#b4d435",red:"#f0402a",pur:"#6b3294",gray:"#8a8a8a",pink:"#edbcbc"};
const svg=d3.select("#c");
const F="'Liberation Sans',Arial,sans-serif";
const star8={draw(ctx,size){const r=Math.sqrt(size)*.66;for(let i=0;i<4;i++){const a=i*Math.PI/4,c=r*Math.cos(a),s=r*Math.sin(a);ctx.moveTo(c,s);ctx.lineTo(-c,-s);}}};
const signFmt=d=>String(d).replace("-","\u2212");

function base(o){
  const g=svg.append("g");
  const sx=d3.scaleLinear().domain(o.xd).range(o.xr), sy=d3.scaleLinear().domain(o.yd).range(o.yr);
  g.append("rect").attr("x",o.box[0]).attr("y",o.box[1]).attr("width",o.box[2]-o.box[0]).attr("height",o.box[3]-o.box[1]).attr("fill","#ebebeb");
  o.xMinor.forEach(v=>g.append("line").attr("x1",sx(v)).attr("x2",sx(v)).attr("y1",o.box[1]).attr("y2",o.box[3]).attr("stroke","#fff").attr("stroke-width",.8));
  o.yMinor.forEach(v=>g.append("line").attr("y1",sy(v)).attr("y2",sy(v)).attr("x1",o.box[0]).attr("x2",o.box[2]).attr("stroke","#fff").attr("stroke-width",.8));
  o.xMajor.forEach(v=>g.append("line").attr("x1",sx(v)).attr("x2",sx(v)).attr("y1",o.box[1]).attr("y2",o.box[3]).attr("stroke","#fff").attr("stroke-width",1.5));
  o.yMajor.forEach(v=>g.append("line").attr("y1",sy(v)).attr("y2",sy(v)).attr("x1",o.box[0]).attr("x2",o.box[2]).attr("stroke","#fff").attr("stroke-width",1.5));
  const ax=d3.axisBottom(sx).tickValues(o.xMajor).tickSize(2).tickPadding(o.xPad===undefined?7:o.xPad).tickFormat(o.xFmt);
  const ay=d3.axisLeft(sy).tickValues(o.yMajor).tickSize(2).tickPadding(3).tickFormat(d3.format("d"));
  const gx=g.append("g").attr("transform",`translate(0,${o.box[3]})`).call(ax);
  const gy=g.append("g").attr("transform",`translate(${o.box[0]},0)`).call(ay);
  [gx,gy].forEach(a=>{a.select(".domain").remove();a.selectAll("text").attr("fill","#5a5a5a").style("font-size",o.tickFont+"px").style("font-family",F);a.selectAll("line").attr("stroke","#444");});
  if(o.yShift)gy.selectAll("text").attr("y",-o.yShift);
  g.append("text").attr("x",o.letter[1]).attr("y",o.letter[2]).text(o.letter[0]).attr("font-size",43).attr("font-weight","bold").attr("fill","#1a1a1a");
  g.append("text").attr("x",o.title[1]).attr("y",o.title[2]).text(o.title[0]).attr("font-size",o.title[3]).attr("fill","#1a1a1a");
  g.append("text").attr("x",o.xl[1]).attr("y",o.xl[2]).attr("text-anchor","middle").text(o.xl[0]).attr("font-size",o.xl[3]).attr("fill","#111");
  g.append("text").attr("transform",`translate(${o.yl[1]},${o.yl[2]}) rotate(-90)`).attr("text-anchor","middle").text(o.yl[0]).attr("font-size",o.yl[3]).attr("fill","#111");
  return {g,sx,sy};
}
function labels(p,arr,fs,colorFn,opts){
  const L=p.g.append("g"),S=L.append("g");
  arr.forEach(d=>{
    const name=d[0],lx=d[1],ly=d[2];
    const col=colorFn?colorFn(d):"#111";
    const tx=colorFn?d[4]:d[3], ty=colorFn?d[5]:d[4];
    const t=L.append("text").attr("x",p.sx(lx)).attr("y",p.sy(ly)).attr("dy","0.36em").attr("text-anchor","middle").text(name).attr("font-size",fs).attr("fill",col);
    if(tx!==undefined){
      const b=t.node().getBBox(),cx=p.sx(lx),cy=p.sy(ly),px=p.sx(tx),py=p.sy(ty);
      const dx=px-cx,dy=py-cy,hw=b.width/2,hh=b.height/2-2;
      const s=Math.min(dx?hw/Math.abs(dx):1e9,dy?hh/Math.abs(dy):1e9);
      if(s<1)S.append("line").attr("x1",cx+dx*s).attr("y1",cy+dy*s).attr("x2",px).attr("y2",py).attr("stroke",col).attr("stroke-width",opts.sw).attr("stroke-opacity",opts.so);
    }
  });
}
function bubble(o){
  const p=base(Object.assign({tickFont:15.5,xFmt:signFmt},o));
  const r=d3.scaleSqrt().domain([0,o.sizes[o.sizes.length-1]]).range([0,o.rmax]);
  [["road",o.road],["human",o.human],["total",o.total]].forEach(([k,a])=>{
    p.g.append("g").selectAll("circle").data(a).join("circle")
      .attr("cx",d=>p.sx(d[0])).attr("cy",d=>p.sy(d[1])).attr("r",d=>r(d[2])).attr("fill",pal[k]);
  });
  labels(p,o.labels,11.3,null,{sw:1,so:1});
  const k=o.key;
  p.g.append("rect").attr("x",k.x0).attr("y",k.y0).attr("width",k.x1-k.x0).attr("height",k.y1-k.y0).attr("fill","#f2f2f2");
  k.names.forEach((n,i)=>{
    p.g.append("circle").attr("cx",k.dot).attr("cy",k.rows[i]).attr("r",4).attr("fill",[pal.human,pal.road,pal.total][i]);
    p.g.append("text").attr("x",k.text).attr("y",k.rows[i]).attr("dy","0.36em").text(n).attr("font-size",14.3).attr("fill","#111");
  });
  const s=o.skey;
  p.g.append("rect").attr("x",s.box[0]).attr("y",s.box[1]).attr("width",s.box[2]-s.box[0]).attr("height",s.box[3]-s.box[1]).attr("fill","#fff");
  p.g.append("rect").attr("x",s.dot-10).attr("y",s.rows[0]-9).attr("width",20).attr("height",s.rows[s.rows.length-1]-s.rows[0]+18).attr("fill","#f2f2f2");
  p.g.append("text").attr("x",s.box[0]+7).attr("y",s.ty).attr("dy","0.36em").text("InBed_Index_SNP").attr("font-size",s.tf).attr("fill","#111");
  o.sizes.forEach((v,i)=>{
    p.g.append("circle").attr("cx",s.dot).attr("cy",s.rows[i]).attr("r",r(v)).attr("fill","#000");
    p.g.append("text").attr("x",s.dot+15).attr("y",s.rows[i]).attr("dy","0.36em").text(v).attr("font-size",s.lf).attr("fill","#111");
  });
}
function chrom(o){
  const p=base(Object.assign({tickFont:14.5},o));
  const star=d3.symbol().type(star8).size(30), tri=d3.symbol().type(d3.symbolTriangle).size(20);
  o.layers.forEach(([kind,col,arr])=>{
    p.g.append("g").selectAll("path").data(arr).join("path")
      .attr("transform",d=>`translate(${p.sx(d[0])},${p.sy(d[1])})`)
      .attr("d",kind==="s"?star:tri)
      .attr("fill",kind==="s"?"none":col).attr("stroke",kind==="s"?col:"none").attr("stroke-width",1.05).attr("stroke-opacity",.95);
  });
  labels(p,o.labels,18.8,d=>labelCol[d[3]],{sw:1,so:.5});
  const k=o.key;
  p.g.append("rect").attr("x",k.x0).attr("y",k.y0).attr("width",k.x1-k.x0).attr("height",k.y1-k.y0).attr("fill","#f2f2f2").attr("stroke","#fff").attr("stroke-width",1.5);
  p.g.append("line").attr("x1",k.x0).attr("x2",k.x1).attr("y1",(k.y0+k.y1)/2).attr("y2",(k.y0+k.y1)/2).attr("stroke","#fff").attr("stroke-width",1.5);
  p.g.append("path").attr("transform",`translate(${k.sx},${k.r0})`).attr("d",d3.symbol().type(d3.symbolTriangle).size(55)).attr("fill","#000");
  p.g.append("path").attr("transform",`translate(${k.sx},${k.r1})`).attr("d",d3.symbol().type(star8).size(45)).attr("fill","none").attr("stroke","#000").attr("stroke-width",1.3);
  p.g.append("text").attr("x",k.tx).attr("y",k.r0).attr("dy","0.36em").text("Heart").attr("font-size",14.3).attr("fill","#111");
  p.g.append("text").attr("x",k.tx).attr("y",k.r1).attr("dy","0.36em").text("Non-Heart").attr("font-size",14.3).attr("fill","#111");
}
const z=a=>a.map(x=>[x,0]);
const YL="\u2212log10(GREGOR Bonferroni adjusted p\u2212value)", XL="log2(Fold Enrichment)", GL="\u2212log10(GARFIELD Bonferroni adjusted p\u2212value)";
const xM=[-1,0,1,2], xm=[-1.5,-.5,.5,1.5];

bubble({box:[48.5,27.6,756,568],xd:[0,1],xr:[359.7,520.6],yd:[0,60],yr:[563.3,150],xMajor:xM,xMinor:xm,yMajor:[0,20,40,60],yMinor:[10,30,50,70],xPad:6,yShift:1.5,
 letter:["A.",0,31],title:["Systolic Blood Pressure",48,20,24.8],xl:[XL,447.5,610,20],yl:[YL,16.5,277.5,19.8],
 road:A_roadmap,human:A_human,total:A_total,labels:A_labels,sizes:A_sizes,rmax:8,
 key:{x0:58,x1:85,y0:34.4,y1:116,dot:71.7,text:94.5,rows:[48,75.4,102.6],names:["Human Hheart","Roadmap","Total Heart"]},
 skey:{box:[621,435,737,544],ty:447.8,dot:638,rows:[469,488.7,508.6,528],tf:12.5,lf:11.3}});
bubble({box:[803.3,28.7,1510,569],xd:[0,1],xr:[1116,1276.4],yd:[0,4],yr:[544.2,106.4],xMajor:xM,xMinor:xm,yMajor:[0,1,2,3,4],yMinor:[.5,1.5,2.5,3.5],xPad:2,yShift:2.3,
 letter:["B.",760,31],title:["Electrocardiograph Traits and Measures",803,21,24.8],xl:[XL,1196,601,20],yl:[YL,781,277.5,19.8],
 road:B_roadmap,human:B_human,total:B_total,labels:B_labels,sizes:B_sizes,rmax:7.5,
 key:{x0:813,x1:839.7,y0:36.4,y1:116,dot:826.6,text:848.4,rows:[49.8,76.5,102.6],names:["Human Heart","Roadmap","Total Heart"]},
 skey:{box:[1395.7,439,1499,537],ty:449.7,dot:1410.7,rows:[469,487,505,523],tf:11.3,lf:10.3}});
bubble({box:[47,626.4,756,1161.4],xd:[0,1],xr:[360.6,521.6],yd:[0,15],yr:[1137.3,721.6],xMajor:xM,xMinor:xm,yMajor:[0,5,10,15],yMinor:[2.5,7.5,12.5,17.5],xPad:2,yShift:2.3,
 letter:["C.",2,620],title:["Resting Heart Rate",52,615,24],xl:[XL,430,1196.5,20],yl:[YL,16.5,875,19.8],
 road:C_roadmap,human:C_human,total:C_total,labels:C_labels,sizes:C_sizes,rmax:7.6,
 key:{x0:68,x1:94.5,y0:631,y1:711.7,dot:81.4,text:103.7,rows:[645,672,698.7],names:["Human Heart","Roadmap","Total Heart"]},
 skey:{box:[643.7,1052,748,1132.7],ty:1063.4,dot:658,rows:[1083.3,1101,1119],tf:11.3,lf:10.3}});
bubble({box:[803.3,625.2,1510,1164],xd:[0,1],xr:[1116.5,1277],yd:[0,10],yr:[1140.3,796.7],xMajor:xM,xMinor:xm,yMajor:[0,5,10],yMinor:[2.5,7.5,12.5],xPad:2,yShift:2.5,
 letter:["D.",760,620.6],title:["QRS",804,613,24],xl:[XL,1195,1196.5,20],yl:[YL,778,875,19.8],
 road:D_roadmap,human:D_human,total:D_total,labels:D_labels,sizes:D_sizes,rmax:7.6,
 key:{x0:824,x1:851,y0:628,y1:705.6,dot:837,text:858.6,rows:[641,666.5,691.8],names:["Human Heart","Roadmap","Total Heart"]},
 skey:{box:[1390.8,1025,1495,1124],ty:1036,dot:1405,rows:[1056,1073.8,1091.3,1109.3],tf:11.3,lf:10.3}});
chrom({box:[54.3,1216.3,740,1799],xd:[0,10],xr:[85.8,702.4],yd:[0,15],yr:[1772.7,1222.5],xMajor:[0,2.5,5,7.5,10],xMinor:[1.25,3.75,6.25,8.75],yMajor:[0,5,10,15],yMinor:[2.5,7.5,12.5],xFmt:d3.format(".1f"),
 letter:["E.",3,1209],title:["Atrial Fibrillation",65,1207,23],xl:["Odds Ratio AF 1E\u22128 Threshold GWAS SNPS",395,1845.4,19.7],yl:[GL,24,1505,20],
 layers:[["s",pal.gray,z(E_zero_gray)],["s",pal.pink,z(E_zero_pink)],["s",pal.het,z(E_zero_het)],["t",pal.white,E_white.slice(0,11)],["s",pal.white,E_white.slice(11)],["s",pal.green,E_green_star],["t",pal.green,E_green_tri],["s",pal.pur,z(E_zero_purple)],["s",pal.or,z(E_zero_or)],["s",pal.yg,z(E_zero_yg)],["s",pal.or,E_or_star],["s",pal.yg,E_yg_star],["s",pal.red,E_red_star],["t",pal.yg,E_yg_tri],["t",pal.or,E_or_tri],["t",pal.red,E_red_tri],["t",pal.ye,E_ye_tri]],
 labels:E_labels,key:{x0:99.4,x1:128.5,y0:1227.7,y1:1283.8,sx:114,tx:137,r0:1242.3,r1:1270}});
chrom({box:[804.3,1213,1497,1799],xd:[0,10],xr:[835.8,1319.6],yd:[0,25],yr:[1772.7,1222.5],xMajor:[0,5,10],xMinor:[2.5,7.5,12.5],yMajor:[0,5,10,15,20,25],yMinor:[2.5,7.5,12.5,17.5,22.5],xFmt:d3.format("d"),
 letter:["F.",755,1204.5],title:["Lupus",814,1207,24],xl:["Odds Ratio Lupus 1E\u22128 Threshold GWAS SNPS",1164,1845.4,19.7],yl:[GL,773,1505,20],
 layers:[["s",pal.aqua,z(F_zero_aqua)],["s",pal.or,z(F_zero_or)],["s",pal.het,z(F_zero_het)],["s",pal.white,z(F_zero_white)],["s",pal.white,F_white],["s",pal.gray,z(F_zero_gray)],["s",pal.gray,F_gray_star],["t",pal.gray,F_gray_tri],["s",pal.pink,F_pink],["s",pal.or,F_or_star],["s",pal.ye,F_yellow],["s",pal.yg,F_yg],["s",pal.green,F_green],["s",pal.red,F_red_star],["t",pal.red,F_red_tri],["s",pal.pur,z(F_zero_purple)],["s",pal.pur,F_purple_star],["t",pal.pur,F_purple_tri]],
 labels:F_labels,key:{x0:851.8,x1:880.9,y0:1236.6,y1:1293.3,sx:866.8,tx:890,r0:1250.8,r1:1279}});

const legDot=[18,127.5,235,348,463,570,682,820,913,1021,1145,1277,1407,18,127.5,235,348,463,570,682,820,913,1021,1145,1277];
const legTxt=[32.5,141.5,249,363,478,585.5,698,836,929,1038,1162,1293.4,1425,32.5,142,249,364,479,587,698.5,836,929,1037.4,1161.5,1293];
const leg=svg.append("g");
stateNames.forEach((n,i)=>{
  const y=i<13?1872.8:1910.5;
  leg.append("circle").attr("cx",legDot[i]).attr("cy",y).attr("r",i===24?3:4).attr("fill",stateColors[i]).attr("stroke",i===24?"#333":"none");
  leg.append("text").attr("x",legTxt[i]).attr("y",y).attr("dy","0.36em").text(n).attr("font-size",16.8).attr("fill","#111");
});
</script></body></html>
